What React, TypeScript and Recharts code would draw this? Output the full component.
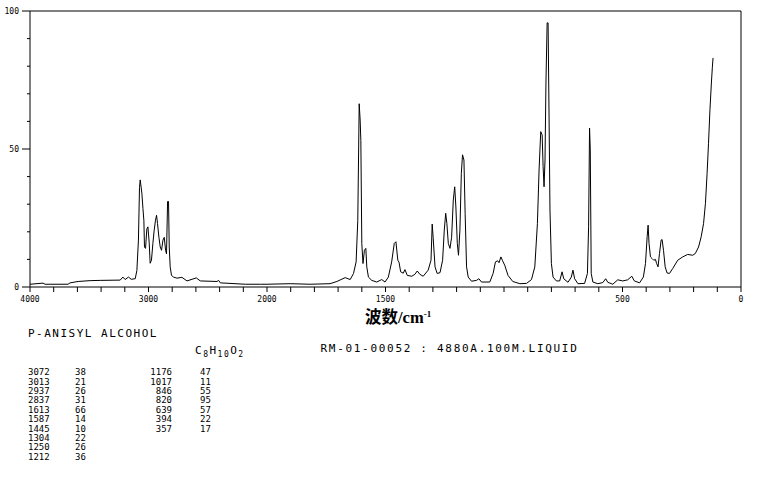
import React from "react";
import {
  LineChart,
  Line,
  XAxis,
  YAxis,
  ReferenceLine,
} from "recharts";

// Raman shift (cm-1), high to low
const wavenumbers = [
  4000, 3890, 3873, 3679, 3662, 3594, 3493, 3408, 3239, 3216, 3197, 3169, 3146,
  3112, 3098, 3085, 3076, 3070, 3056, 3047, 3039, 3034, 3025, 3014, 3005, 2994,
  2986, 2975, 2963, 2952, 2941, 2932, 2924, 2912, 2901, 2890, 2878, 2867, 2856,
  2848, 2839, 2831, 2825, 2817, 2806, 2789, 2760, 2718, 2675, 2597, 2563, 2422,
  2408, 2394, 2183, 2056, 2000, 1902, 1818, 1734, 1705, 1670, 1649, 1635, 1624,
  1617, 1611, 1607, 1604, 1600, 1595, 1589, 1583, 1579, 1572, 1558, 1537, 1516,
  1502, 1488, 1474, 1463, 1456, 1448, 1443, 1436, 1425, 1418, 1408, 1389, 1376,
  1366, 1355, 1341, 1320, 1308, 1303, 1299, 1291, 1282, 1270, 1259, 1252, 1246,
  1241, 1235, 1228, 1221, 1214, 1208, 1203, 1197, 1192, 1186, 1180, 1175, 1169,
  1164, 1158, 1151, 1137, 1116, 1106, 1095, 1060, 1046, 1036, 1027, 1021, 1013,
  1006, 997, 983, 963, 933, 905, 884, 870, 859, 852, 845, 839, 835, 831, 827,
  823, 818, 814, 810, 806, 800, 793, 779, 765, 755, 748, 730, 716, 709, 702,
  688, 660, 648, 643, 639, 636, 632, 625, 604, 583, 571, 562, 541, 520, 499,
  478, 461, 450, 428, 412, 403, 396, 392, 388, 382, 375, 368, 361, 356, 350,
  344, 337, 333, 327, 320, 312, 302, 288, 267, 246, 225, 204, 193, 179, 168,
  158, 150, 143, 137, 131, 125, 121, 118,
];

const intensities = [
  1.0, 1.4, 1.0, 1.0, 1.5, 2.0, 2.3, 2.4, 2.5, 3.6, 2.7, 3.6, 2.8, 3.0, 6, 17,
  36, 38.8, 34, 28.5, 24, 14.5, 14, 21, 21.8, 16, 8.6, 9.7, 15.8, 20.6, 24.2,
  26, 23, 18, 14.5, 13.3, 17, 18, 13.3, 12, 31, 31, 14.5, 7.3, 4.2, 3.6, 3.2,
  3.5, 2.2, 3.3, 2.2, 2.0, 2.4, 1.5, 1.0, 1.0, 1.0, 1.2, 1.0, 1.2, 2.0, 3.4,
  2.7, 4.9, 9.1, 24, 66.4, 60.5, 53, 15.8, 8.5, 13.3, 14, 7.3, 3.6, 2.4, 1.8,
  2.7, 1.8, 3.6, 9.1, 15.8, 16.4, 9.7, 9, 5.5, 5, 6.3, 4.2, 3.9, 4.6, 5.8, 4.6,
  3.9, 6.1, 9.7, 22.8, 18, 7.3, 4.9, 5.2, 9.7, 20.6, 26.7, 23, 15.8, 14, 18,
  31.5, 36.3, 29, 15.8, 11.5, 20.6, 41.2, 47.9, 46, 26.7, 7.3, 3.6, 2.1, 2.4,
  3.0, 1.8, 1.8, 4.9, 9.1, 9.5, 8.8, 10.9, 9.5, 7.9, 4.2, 2.0, 1.2, 1.3, 2.7,
  7.3, 23, 42.4, 56.3, 55.1, 43.6, 36.3, 46, 73.9, 95.7, 95.7, 63, 27.9, 8.5,
  3.6, 2.2, 2.2, 5.5, 3.0, 1.7, 3.6, 6.1, 3.0, 1.2, 1.3, 4.9, 21.8, 57.6, 49.7,
  4.9, 1.8, 1.2, 1.6, 3.0, 1.7, 1.0, 2.6, 2.2, 2.6, 3.9, 2.2, 1.5, 3.6, 8.5,
  18.2, 22.4, 15.8, 10.9, 10.3, 9.7, 10, 8.5, 7.3, 12.1, 17, 17.2, 13.3, 7.3,
  5.1, 4.9, 6.7, 9.7, 10.9, 11.8, 11.5, 12.1, 14.5, 18.2, 23, 30.3, 41.2, 52.1,
  64.2, 73.9, 79.4, 83,
];

// axis ticks
const xTickValues = [
  4000, 3800, 3600, 3400, 3200, 3000, 2800, 2600, 2400, 2200, 2000, 1900, 1800,
  1700, 1600, 1500, 1400, 1300, 1200, 1100, 1000, 900, 800, 700, 600, 500, 400,
  300, 200, 100, 0,
];
const xTickLabels = ["4000", "3000", "2000", "1500", "500", "0"];
const yTickValues = [0, 10, 20, 30, 40, 50, 60, 70, 80, 90, 100];
const yTickLabels = ["0", "50", "100"];

// peak list printed under the chart
const peakShiftsA = ["3072", "3013", "2937", "2837", "1613", "1587", "1445", "1304", "1250", "1212"];
const peakValuesA = ["38", "21", "26", "31", "66", "14", "10", "22", "26", "36"];
const peakShiftsB = ["1176", "1017", "846", "820", "639", "394", "357"];
const peakValuesB = ["47", "11", "55", "95", "57", "22", "17"];

// the range above 2000 cm-1 is drawn at half scale
const toAxis = (w: number) => (w <= 2000 ? w : 2000 + (w - 2000) / 2);
const fromAxis = (t: number) => (t <= 2000 ? t : 2000 + (t - 2000) * 2);

const data = wavenumbers.map((w, i) => ({ t: toAxis(w), v: intensities[i] }));

const mono = "'DejaVu Sans Mono', monospace";

function YTick(props: any) {
  const { x, y, payload } = props;
  const label = String(payload.value);
  const major = yTickLabels.includes(label);
  return (
    <g>
      <line x1={x - (major ? 8 : 3)} y1={y} x2={x} y2={y} stroke="#000" />
      {major && (
        <text x={x - 11} y={y} dy="0.35em" textAnchor="end" fontSize={8} fontFamily={mono} fill="#000">
          {label}
        </text>
      )}
    </g>
  );
}

const abs = (left: number, top: number, extra: React.CSSProperties = {}): React.CSSProperties => ({
  position: "absolute",
  left,
  top,
  whiteSpace: "pre",
  color: "#000",
  ...extra,
});

const subStyle: React.CSSProperties = { fontSize: 8, verticalAlign: "-3px", lineHeight: 0 };

export default function App() {
  const rowH = 9.35;
  return (
    <div style={{ position: "absolute", left: 0, top: 0, width: 761, height: 477, background: "#fff", overflow: "hidden" }}>
      <LineChart
        width={761}
        height={477}
        data={data}
        margin={{ top: 11, right: 20, bottom: 170, left: 0 }}
      >
        <XAxis
          dataKey="t"
          type="number"
          domain={[0, 3000]}
          reversed
          ticks={xTickValues.map(toAxis)}
          interval={0}
          height={20}
          stroke="#000"
          tickSize={5}
          tickMargin={4}
          tick={{ fontSize: 8, fontFamily: mono, fill: "#000" }}
          tickFormatter={(t: number) => {
            const s = String(Math.round(fromAxis(t)));
            return xTickLabels.includes(s) ? s : "";
          }}
        />
        <YAxis
          type="number"
          domain={[0, 100]}
          ticks={yTickValues}
          interval={0}
          width={30}
          stroke="#000"
          tickLine={false}
          tickSize={0}
          tickMargin={0}
          tick={<YTick />}
        />
        <ReferenceLine y={100} stroke="#000" />
        <ReferenceLine x={0} stroke="#000" />
        <Line
          type="linear"
          dataKey="v"
          stroke="#000"
          strokeWidth={1}
          dot={false}
          isAnimationActive={false}
        />
      </LineChart>

      <div style={abs(365, 310, { fontSize: 16.5, lineHeight: "16px", fontWeight: "bold", fontFamily: "'Liberation Serif', 'Noto Sans CJK SC', serif" })}>
        波数/cm<sup style={{ fontSize: 9, verticalAlign: "6px", lineHeight: 0 }}>-1</sup>
      </div>

      <div style={abs(28, 328, { fontSize: 11, lineHeight: "11px", fontFamily: mono, letterSpacing: 1.5 })}>
        P-ANISYL ALCOHOL
      </div>
      <div style={abs(195, 344.5, { fontSize: 11, lineHeight: "11px", fontFamily: mono, letterSpacing: 1.5 })}>
        C<sub style={subStyle}>8</sub>H<sub style={subStyle}>10</sub>O<sub style={subStyle}>2</sub>
      </div>
      <div style={abs(320.5, 342.5, { fontSize: 11, lineHeight: "11px", fontFamily: mono, letterSpacing: 1.7 })}>
        RM-01-00052 : 4880A.100M.LIQUID
      </div>

      {peakShiftsA.map((s, i) => (
        <div key={"a" + i} style={abs(28, 368.4 + i * rowH, { fontSize: 9, lineHeight: "9px", fontFamily: mono })}>
          {s}
        </div>
      ))}
      {peakValuesA.map((s, i) => (
        <div key={"av" + i} style={abs(75, 368.4 + i * rowH, { fontSize: 9, lineHeight: "9px", fontFamily: mono })}>
          {s}
        </div>
      ))}
      {peakShiftsB.map((s, i) => (
        <div key={"b" + i} style={abs(150, 368.4 + i * rowH, { fontSize: 9, lineHeight: "9px", fontFamily: mono, width: 22, textAlign: "right" })}>
          {s}
        </div>
      ))}
      {peakValuesB.map((s, i) => (
        <div key={"bv" + i} style={abs(200, 368.4 + i * rowH, { fontSize: 9, lineHeight: "9px", fontFamily: mono })}>
          {s}
        </div>
      ))}
    </div>
  );
}
